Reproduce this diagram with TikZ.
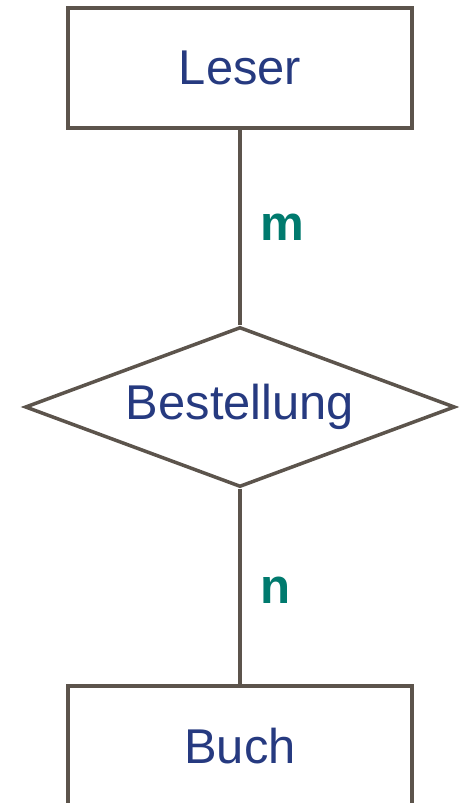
\documentclass[tikz,border=0pt]{standalone}
\usepackage{fontspec}
\setmainfont{Liberation Sans}
\usetikzlibrary{shapes.geometric}
\definecolor{rahmen}{RGB}{92,84,76}
\definecolor{schrift}{RGB}{38,58,128}
\definecolor{kard}{RGB}{0,122,110}

\begin{document}
\begin{tikzpicture}[
    x=0.02cm,y=-0.02cm,
    entity/.style={draw=rahmen,line width=2pt,fill=white,minimum width=6.88cm,
                   minimum height=2.4cm,inner sep=0pt,text=schrift,
                   font=\fontsize{27.8}{33}\selectfont},
    relship/.style={draw=rahmen,line width=2pt,diamond,aspect=2.69,fill=white,
                    minimum width=8.6cm,minimum height=3.2cm,inner sep=0pt,
                    text=schrift,font=\fontsize{27.8}{33}\selectfont},
    verb/.style={draw=rahmen,line width=2pt},
    kardi/.style={text=kard,font=\fontsize{28}{33}\selectfont\bfseries,
                  anchor=west,xshift=0.26cm},
  ]
    \useasboundingbox (0,0) rectangle (459,803);
    \clip (0,0) rectangle (459,803);

    % Entities and relationship
    \node[entity]  (leser) at (240,68)  {Leser};
    \node[relship] (best)  at (240,407) {Bestellung};
    \node[entity]  (buch)  at (240,746) {Buch};

    % Connections
    \draw[verb] (leser.south) -- (best.north)
      node[midway,kardi] {m};
    \draw[verb] (best.south) -- (buch.north)
      node[midway,kardi,yshift=-0.08cm] {n};

\end{tikzpicture}
\end{document}
